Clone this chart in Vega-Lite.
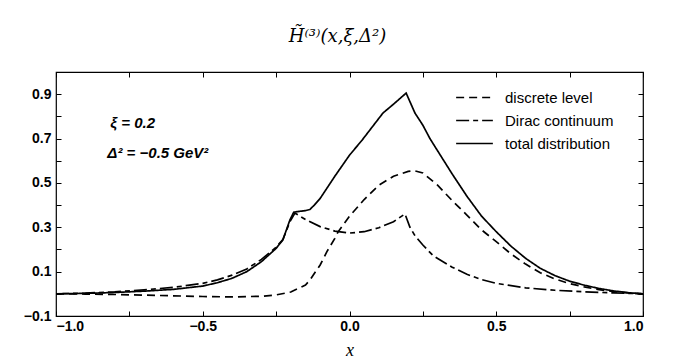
{
  "$schema": "https://vega.github.io/schema/vega-lite/v6.json",
  "autosize": "none",
  "width": 587,
  "height": 244,
  "padding": {"left": 56, "top": 72, "right": 40, "bottom": 44},
  "background": "white",
  "title": {
    "text": "H̃⁽³⁾(x,ξ,Δ²)",
    "font": "DejaVu Serif",
    "fontStyle": "italic",
    "fontWeight": "normal",
    "fontSize": 18,
    "color": "#000",
    "anchor": "middle",
    "offset": 26,
    "dx": -12
  },
  "config": {
    "view": {"stroke": "#000", "strokeWidth": 1.2},
    "axis": {
      "domain": false,
      "grid": false,
      "tickColor": "#000",
      "tickSize": -5,
      "labelFont": "Liberation Sans",
      "labelFontWeight": "bold",
      "labelFontSize": 14,
      "labelColor": "#000",
      "titleColor": "#000"
    }
  },
  "datasets": {
    "curves": [
      {"x": -1.0, "y": 0.0, "series": "total distribution"},
      {"x": -0.9, "y": 0.002, "series": "total distribution"},
      {"x": -0.8, "y": 0.006, "series": "total distribution"},
      {"x": -0.7, "y": 0.012, "series": "total distribution"},
      {"x": -0.6, "y": 0.02, "series": "total distribution"},
      {"x": -0.5, "y": 0.035, "series": "total distribution"},
      {"x": -0.45, "y": 0.05, "series": "total distribution"},
      {"x": -0.4, "y": 0.07, "series": "total distribution"},
      {"x": -0.35, "y": 0.1, "series": "total distribution"},
      {"x": -0.3, "y": 0.145, "series": "total distribution"},
      {"x": -0.25, "y": 0.205, "series": "total distribution"},
      {"x": -0.227, "y": 0.243, "series": "total distribution"},
      {"x": -0.203, "y": 0.333, "series": "total distribution"},
      {"x": -0.19, "y": 0.368, "series": "total distribution"},
      {"x": -0.17, "y": 0.372, "series": "total distribution"},
      {"x": -0.15, "y": 0.375, "series": "total distribution"},
      {"x": -0.135, "y": 0.38, "series": "total distribution"},
      {"x": -0.12, "y": 0.4, "series": "total distribution"},
      {"x": -0.1, "y": 0.43, "series": "total distribution"},
      {"x": -0.05, "y": 0.53, "series": "total distribution"},
      {"x": 0.0, "y": 0.625, "series": "total distribution"},
      {"x": 0.043, "y": 0.693, "series": "total distribution"},
      {"x": 0.114, "y": 0.815, "series": "total distribution"},
      {"x": 0.15, "y": 0.855, "series": "total distribution"},
      {"x": 0.193, "y": 0.905, "series": "total distribution"},
      {"x": 0.223, "y": 0.815, "series": "total distribution"},
      {"x": 0.25, "y": 0.76, "series": "total distribution"},
      {"x": 0.274, "y": 0.7, "series": "total distribution"},
      {"x": 0.3, "y": 0.645, "series": "total distribution"},
      {"x": 0.35, "y": 0.54, "series": "total distribution"},
      {"x": 0.4, "y": 0.44, "series": "total distribution"},
      {"x": 0.45, "y": 0.35, "series": "total distribution"},
      {"x": 0.5, "y": 0.28, "series": "total distribution"},
      {"x": 0.55, "y": 0.215, "series": "total distribution"},
      {"x": 0.6, "y": 0.16, "series": "total distribution"},
      {"x": 0.65, "y": 0.115, "series": "total distribution"},
      {"x": 0.7, "y": 0.082, "series": "total distribution"},
      {"x": 0.75, "y": 0.057, "series": "total distribution"},
      {"x": 0.8, "y": 0.039, "series": "total distribution"},
      {"x": 0.85, "y": 0.024, "series": "total distribution"},
      {"x": 0.9, "y": 0.013, "series": "total distribution"},
      {"x": 0.95, "y": 0.005, "series": "total distribution"},
      {"x": 1.0, "y": 0.0, "series": "total distribution"},

      {"x": -1.0, "y": 0.0, "series": "discrete level"},
      {"x": -0.9, "y": -0.001, "series": "discrete level"},
      {"x": -0.8, "y": -0.003, "series": "discrete level"},
      {"x": -0.7, "y": -0.006, "series": "discrete level"},
      {"x": -0.6, "y": -0.009, "series": "discrete level"},
      {"x": -0.5, "y": -0.012, "series": "discrete level"},
      {"x": -0.4, "y": -0.014, "series": "discrete level"},
      {"x": -0.3, "y": -0.011, "series": "discrete level"},
      {"x": -0.25, "y": -0.005, "series": "discrete level"},
      {"x": -0.2, "y": 0.008, "series": "discrete level"},
      {"x": -0.15, "y": 0.04, "series": "discrete level"},
      {"x": -0.135, "y": 0.062, "series": "discrete level"},
      {"x": -0.1, "y": 0.13, "series": "discrete level"},
      {"x": -0.077, "y": 0.19, "series": "discrete level"},
      {"x": -0.05, "y": 0.25, "series": "discrete level"},
      {"x": -0.039, "y": 0.279, "series": "discrete level"},
      {"x": 0.0, "y": 0.35, "series": "discrete level"},
      {"x": 0.05, "y": 0.425, "series": "discrete level"},
      {"x": 0.1, "y": 0.49, "series": "discrete level"},
      {"x": 0.15, "y": 0.53, "series": "discrete level"},
      {"x": 0.2, "y": 0.552, "series": "discrete level"},
      {"x": 0.22, "y": 0.555, "series": "discrete level"},
      {"x": 0.25, "y": 0.545, "series": "discrete level"},
      {"x": 0.3, "y": 0.49, "series": "discrete level"},
      {"x": 0.35, "y": 0.42, "series": "discrete level"},
      {"x": 0.4, "y": 0.355, "series": "discrete level"},
      {"x": 0.45, "y": 0.288, "series": "discrete level"},
      {"x": 0.5, "y": 0.235, "series": "discrete level"},
      {"x": 0.55, "y": 0.18, "series": "discrete level"},
      {"x": 0.6, "y": 0.134, "series": "discrete level"},
      {"x": 0.65, "y": 0.095, "series": "discrete level"},
      {"x": 0.7, "y": 0.067, "series": "discrete level"},
      {"x": 0.75, "y": 0.046, "series": "discrete level"},
      {"x": 0.8, "y": 0.031, "series": "discrete level"},
      {"x": 0.85, "y": 0.019, "series": "discrete level"},
      {"x": 0.9, "y": 0.01, "series": "discrete level"},
      {"x": 0.95, "y": 0.004, "series": "discrete level"},
      {"x": 1.0, "y": 0.0, "series": "discrete level"},

      {"x": -1.0, "y": 0.0, "series": "Dirac continuum"},
      {"x": -0.9, "y": 0.003, "series": "Dirac continuum"},
      {"x": -0.8, "y": 0.009, "series": "Dirac continuum"},
      {"x": -0.7, "y": 0.018, "series": "Dirac continuum"},
      {"x": -0.6, "y": 0.029, "series": "Dirac continuum"},
      {"x": -0.5, "y": 0.047, "series": "Dirac continuum"},
      {"x": -0.45, "y": 0.063, "series": "Dirac continuum"},
      {"x": -0.4, "y": 0.084, "series": "Dirac continuum"},
      {"x": -0.35, "y": 0.112, "series": "Dirac continuum"},
      {"x": -0.3, "y": 0.155, "series": "Dirac continuum"},
      {"x": -0.25, "y": 0.21, "series": "Dirac continuum"},
      {"x": -0.227, "y": 0.245, "series": "Dirac continuum"},
      {"x": -0.203, "y": 0.325, "series": "Dirac continuum"},
      {"x": -0.186, "y": 0.364, "series": "Dirac continuum"},
      {"x": -0.15, "y": 0.335, "series": "Dirac continuum"},
      {"x": -0.1, "y": 0.303, "series": "Dirac continuum"},
      {"x": -0.05, "y": 0.283, "series": "Dirac continuum"},
      {"x": 0.0, "y": 0.274, "series": "Dirac continuum"},
      {"x": 0.05, "y": 0.28, "series": "Dirac continuum"},
      {"x": 0.1, "y": 0.298, "series": "Dirac continuum"},
      {"x": 0.15, "y": 0.325, "series": "Dirac continuum"},
      {"x": 0.189, "y": 0.36, "series": "Dirac continuum"},
      {"x": 0.206, "y": 0.3, "series": "Dirac continuum"},
      {"x": 0.223, "y": 0.262, "series": "Dirac continuum"},
      {"x": 0.25, "y": 0.22, "series": "Dirac continuum"},
      {"x": 0.285, "y": 0.172, "series": "Dirac continuum"},
      {"x": 0.35, "y": 0.12, "series": "Dirac continuum"},
      {"x": 0.4, "y": 0.088, "series": "Dirac continuum"},
      {"x": 0.45, "y": 0.064, "series": "Dirac continuum"},
      {"x": 0.5, "y": 0.047, "series": "Dirac continuum"},
      {"x": 0.6, "y": 0.027, "series": "Dirac continuum"},
      {"x": 0.7, "y": 0.016, "series": "Dirac continuum"},
      {"x": 0.8, "y": 0.009, "series": "Dirac continuum"},
      {"x": 0.9, "y": 0.004, "series": "Dirac continuum"},
      {"x": 1.0, "y": 0.0, "series": "Dirac continuum"}
    ],
    "notes": [
      {"x": -0.815, "y": 0.77, "label": "ξ = 0.2"},
      {"x": -0.825, "y": 0.635, "label": "Δ² = −0.5 GeV²"}
    ]
  },
  "resolve": {"axis": {"x": "independent", "y": "independent"}},
  "layer": [
    {
      "data": {"name": "curves"},
      "mark": {"type": "line", "stroke": "#000", "strokeWidth": 1.7, "clip": true},
      "encoding": {
        "x": {
          "field": "x", "type": "quantitative",
          "scale": {"domain": [-1, 1], "nice": false},
          "axis": {
            "orient": "bottom",
            "values": [-1, -0.75, -0.5, -0.25, 0, 0.25, 0.5, 0.75, 1],
            "labelExpr": "abs(datum.value*2 - round(datum.value*2)) < 0.01 ? format(datum.value, '.1f') : ''",
            "labelPadding": 8,
            "title": "x",
            "titleFont": "Liberation Serif",
            "titleFontStyle": "italic",
            "titleFontWeight": "normal",
            "titleFontSize": 18,
            "titlePadding": 8
          }
        },
        "y": {
          "field": "y", "type": "quantitative",
          "scale": {"domain": [-0.1, 1.0], "nice": false, "zero": false},
          "axis": {
            "orient": "left",
            "values": [-0.1, 0, 0.1, 0.2, 0.3, 0.4, 0.5, 0.6, 0.7, 0.8, 0.9, 1.0],
            "labelExpr": "abs(round(datum.value*10)) % 2 == 1 ? format(datum.value, '.1f') : ''",
            "labelPadding": 10,
            "title": null
          }
        },
        "strokeDash": {
          "field": "series", "type": "nominal",
          "scale": {
            "domain": ["discrete level", "Dirac continuum", "total distribution"],
            "range": [[8, 5], [13, 4, 5, 4], [1, 0]]
          },
          "legend": {
            "title": null,
            "orient": "none",
            "legendX": 411,
            "legendY": 18,
            "symbolType": "M-3,0H3",
            "symbolSize": 150,
            "symbolStrokeWidth": 1.7,
            "symbolStrokeColor": "#000",
            "labelFont": "Liberation Sans",
            "labelFontSize": 15,
            "labelColor": "#000",
            "labelOffset": 23,
            "rowPadding": 7,
            "padding": 0
          }
        }
      }
    },
    {
      "data": {"name": "notes"},
      "mark": {"type": "text", "align": "left", "baseline": "middle", "font": "Liberation Sans", "fontStyle": "italic", "fontWeight": "bold", "fontSize": 15, "color": "#000"},
      "encoding": {
        "x": {"field": "x", "type": "quantitative", "axis": null},
        "y": {"field": "y", "type": "quantitative", "axis": null},
        "text": {"field": "label"}
      }
    },
    {
      "data": {"name": "curves"},
      "mark": {"type": "point", "opacity": 0},
      "encoding": {
        "x": {
          "field": "x", "type": "quantitative",
          "axis": {"orient": "top", "values": [-1, -0.75, -0.5, -0.25, 0, 0.25, 0.5, 0.75, 1], "labels": false, "title": null}
        },
        "y": {
          "field": "y", "type": "quantitative",
          "axis": {"orient": "right", "values": [-0.1, 0, 0.1, 0.2, 0.3, 0.4, 0.5, 0.6, 0.7, 0.8, 0.9, 1.0], "labels": false, "title": null}
        }
      }
    }
  ]
}
